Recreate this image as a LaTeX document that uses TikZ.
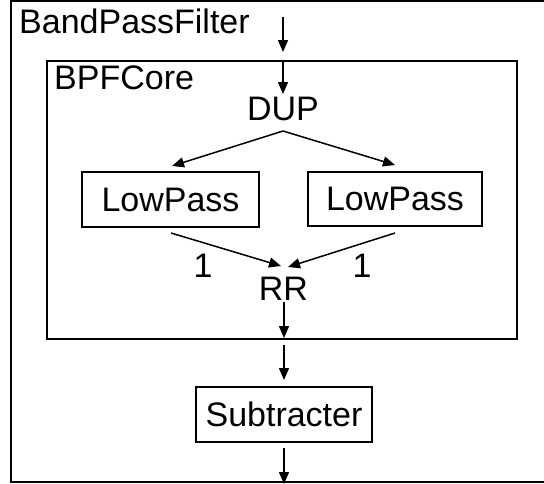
\documentclass[tikz,border=0pt]{standalone}
\usepackage{fontspec}
\setmainfont{Liberation Sans}
\usetikzlibrary{arrows.meta}
\tikzset{
  txt/.style={inner sep=0pt, font=\fontsize{34}{40}\selectfont},
  blk/.style={draw, line width=1.4pt, inner sep=0pt, font=\fontsize{34}{40}\selectfont},
  frame/.style={draw, line width=1.4pt},
  arr/.style={line width=1.5pt, -{Triangle[length=12pt,width=10pt]}},
}
\begin{document}
\begin{tikzpicture}[x=1pt,y=-1pt]
\useasboundingbox (0,0) rectangle (544,483);
\clip (0,0) rectangle (544,483);
% outer frame (right side lies beyond the picture)
\draw[frame] (560,1) -- (11,1) -- (11,482) -- (560,482);
\node[txt, anchor=west] (bpf) at (19,21.5) {BandPassFilter};
% inner core
\node[frame, minimum width=470pt, minimum height=278pt, inner sep=0pt] (core) at (282,200) {};
\node[txt, anchor=west] (corelbl) at (54,77.5) {BPFCore};
\node[txt] (dup) at (283,108.5) {DUP};
\node[blk, minimum width=177pt, minimum height=55pt] (lp1) at (170.5,199.5) {LowPass};
\node[blk, minimum width=174pt, minimum height=54pt] (lp2) at (395,199) {LowPass};
\node[txt] (rr) at (283.5,289) {RR};
\node[txt] (w1) at (203,266) {1};
\node[txt] (w2) at (362,266) {1};
\node[blk, minimum width=176pt, minimum height=55pt] (sub) at (284,414.5) {Subtracter};
% free ends
\coordinate (inA) at (283,17);
\coordinate (inB) at (283,52);
\coordinate (coreIn) at (283,61);
\coordinate (dupOut) at (283,131);
\coordinate (lp1In) at (172,166);
\coordinate (lp2In) at (395,165);
\coordinate (lp1Out) at (171,233);
\coordinate (lp2Out) at (395,233);
\coordinate (rrIn1) at (281,266);
\coordinate (rrIn2) at (288,267);
\coordinate (rrOut) at (284,302);
\coordinate (coreOut) at (284,338);
\coordinate (subInA) at (284,345);
\coordinate (subInB) at (284,380);
\coordinate (subOutA) at (284,448);
\coordinate (subOutB) at (284,484);
% connectors
\draw[arr] (inA) -- (inB);
\draw[arr] (coreIn) -- (283,94);
\draw[arr] (dupOut) -- (lp1In);
\draw[arr] (dupOut) -- (lp2In);
\draw[arr] (lp1Out) -- (rrIn1);
\draw[arr] (lp2Out) -- (rrIn2);
\draw[arr] (rrOut) -- (coreOut);
\draw[arr] (subInA) -- (subInB);
\draw[arr] (subOutA) -- (subOutB);
\end{tikzpicture}
\end{document}
